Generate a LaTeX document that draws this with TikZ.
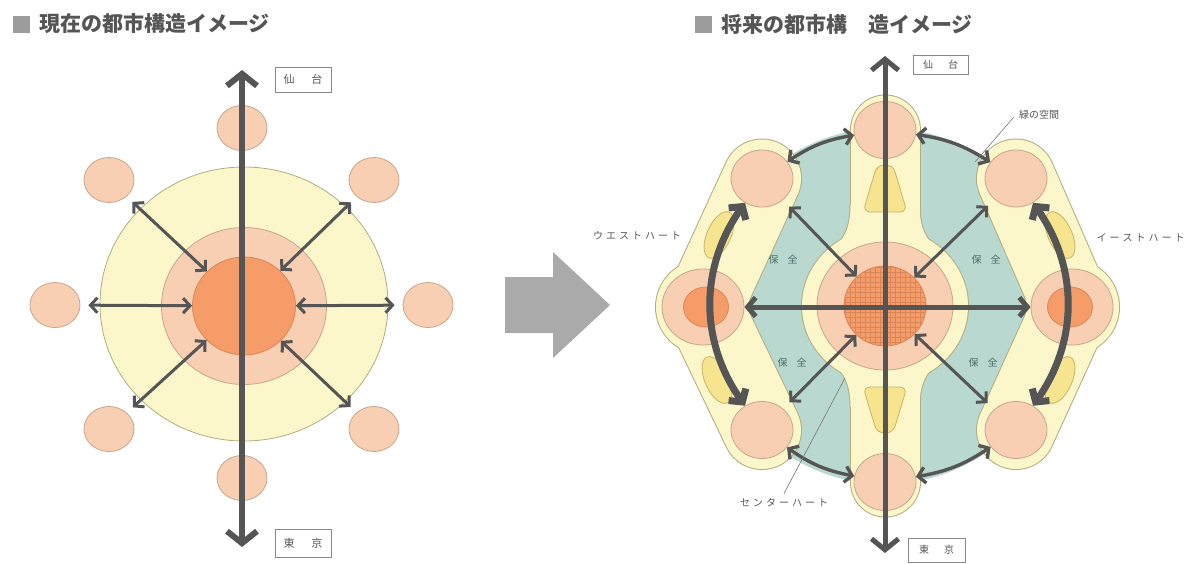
\documentclass[tikz,border=0pt]{standalone}
\usepackage{fontspec}
\newfontfamily\jp{Noto Sans CJK JP}
\usetikzlibrary{arrows.meta,shapes.geometric}
\definecolor{ylw}{HTML}{FBF7CB}
\definecolor{ylwline}{HTML}{B3AE82}
\definecolor{peach}{HTML}{F9CFB3}
\definecolor{peachline}{HTML}{C6A68C}
\definecolor{org}{HTML}{F59C68}
\definecolor{orgline}{HTML}{D8875A}
\definecolor{grn}{HTML}{B9D8CF}
\definecolor{dyl}{HTML}{F6E48E}
\definecolor{dylline}{HTML}{C8B46A}
\definecolor{arr}{HTML}{555555}
\definecolor{lbl}{HTML}{555555}
\definecolor{bigarr}{HTML}{AAAAAA}
\definecolor{sq}{HTML}{9C9C9C}
\definecolor{hz}{HTML}{4E6A66}
\newcommand\lsgap{\kern3pt}
\tikzset{
  el/.style={ellipse, inner sep=0pt, line width=0.8pt},
  lsat/.style={el, draw=peachline, fill=peach, minimum width=50pt, minimum height=45pt},
  rsat/.style={el, draw=peachline, fill=peach, minimum width=62pt, minimum height=57pt},
  leaf/.style={el, draw=dylline, fill=dyl, minimum width=24pt, minimum height=50pt},
  thinarr/.style={draw=arr, line width=3pt, arrows={Straight Barb[length=7pt,width=15pt]-Straight Barb[length=7pt,width=15pt]}},
  arcarr/.style={draw=arr, line width=3.4pt, arrows={Straight Barb[length=7pt,width=16pt]-Straight Barb[length=7pt,width=16pt]}},
  midarr/.style={draw=arr, line width=5pt, arrows={Straight Barb[length=8pt,width=19pt]-Straight Barb[length=8pt,width=19pt]}},
  thickarr/.style={draw=arr, line width=7pt, arrows={Straight Barb[length=9pt,width=21pt]-Straight Barb[length=9pt,width=21pt]}},
  mainarr/.style={draw=arr, line width=6pt, arrows={Straight Barb[length=12pt,width=30pt]-Straight Barb[length=12pt,width=30pt]}},
  mainarrb/.style={draw=arr, line width=5pt, arrows={Straight Barb[length=11pt,width=27pt]-Straight Barb[length=11pt,width=27pt]}},
  citybox/.style={draw=lbl!70, line width=0.6pt, text=lbl, inner sep=0pt, minimum width=56pt, minimum height=25pt, font=\jp\fontsize{11}{11}\selectfont},
  small/.style={inner sep=0pt, text=lbl, font=\jp\fontsize{10}{10}\selectfont},
  hzen/.style={inner sep=0pt, text=hz, font=\jp\fontsize{10}{10}\selectfont},
  title/.style={anchor=west, inner sep=0pt, text=lbl, font=\jp\bfseries\fontsize{21}{21}\selectfont},
  leader/.style={draw=lbl!80, line width=0.6pt}
}
\begin{document}
\begin{tikzpicture}[x=1pt,y=-1pt]
\useasboundingbox (0,0) rectangle (1198,563);
\fill[white] (0,0) rectangle (1198,563);

% ---------- titles ----------
\node[fill=sq, minimum size=17pt, inner sep=0pt] (Q1) at (21.5,24) {};
\node[title] (T1) at (39,24) {現在の都市構造イメージ};
\node[fill=sq, minimum size=17pt, inner sep=0pt] (Q2) at (703,24) {};
\node[title] (T2) at (721,24) {将来の都市構　造イメージ};

% ---------- left diagram ----------
\node[el, draw=ylwline, fill=ylw, minimum width=288pt, minimum height=274pt] (LY) at (244,304) {};
\node[el, draw=peachline, fill=peach, minimum width=165pt, minimum height=157pt] (LP) at (244,306) {};
\node[el, draw=orgline, fill=org, minimum width=103pt, minimum height=98pt] (LO) at (244,306) {};
\node[lsat] (LT) at (242,128) {};
\node[lsat] (LTL) at (109,180) {};
\node[lsat] (LTR) at (374,180) {};
\node[lsat] (LL) at (55,305) {};
\node[lsat] (LR) at (428,305) {};
\node[lsat] (LBL) at (109,429) {};
\node[lsat] (LBR) at (374,429) {};
\node[lsat] (LB) at (242,478) {};
\draw[thinarr, shorten <=8pt] (LTL) -- (LO);
\draw[thinarr, shorten <=8pt] (LTR) -- (LO);
\draw[thinarr, shorten <=8pt] (LL) -- (LO);
\draw[thinarr, shorten <=8pt] (LR) -- (LO);
\draw[thinarr, shorten <=8pt] (LBL) -- (LO);
\draw[thinarr, shorten <=8pt] (LBR) -- (LO);
\coordinate (LN) at (242,70);
\coordinate (LS) at (242,547);
\draw[mainarr] (LS) -- (LN);
\node[citybox] (LSen) at (303,79.5) {仙\hspace{17pt}台};
\node[citybox, minimum height=28pt] (LTok) at (303,543) {東\hspace{17pt}京};

% ---------- big arrow ----------
\fill[bigarr] (505,277) -- (553,277) -- (553,252) -- (610,305) -- (553,358) -- (553,333) -- (505,333) -- cycle;

% ---------- right diagram ----------
\coordinate (C) at (885,306);
\fill[grn] (C) circle[radius=178];
% outline pass
\draw[ylwline, line width=71pt, line cap=round] (885,130) -- (885,482);
\draw[ylwline, line width=2pt] (C) ellipse[x radius=83, y radius=78];
\foreach \sx/\sy in {1/1,-1/1,1/-1,-1/-1}{
  \draw[ylwline, line width=2pt, shift={(885,306)}, xscale=\sx, yscale=\sy] (-34.5,-101) .. controls (-34.5,-74) and (-43,-61) .. (-67,-46);
}
\draw[ylwline, line width=80pt, line cap=round, line join=round] (762,178.5) -- (703,307) -- (762,430);
\fill[ylwline] (703,307) circle[radius=48];
\draw[ylwline, line width=80pt, line cap=round, line join=round] (1016,178.5) -- (1072,307) -- (1016,430);
\fill[ylwline] (1072,307) circle[radius=48];
% fill pass
\draw[ylw, line width=69pt, line cap=round] (885,130) -- (885,482);
\fill[ylw] (C) ellipse[x radius=83, y radius=78];
\foreach \sx/\sy in {1/1,-1/1,1/-1,-1/-1}{
  \fill[ylw, shift={(885,306)}, xscale=\sx, yscale=\sy] (-34.5,-101) .. controls (-34.5,-74) and (-43,-61) .. (-67,-46) -- (-35,-36) -- (-15,-76) -- cycle;
}
\draw[ylw, line width=78pt, line cap=round, line join=round] (762,178.5) -- (703,307) -- (762,430);
\fill[ylw] (703,307) circle[radius=47];
\draw[ylw, line width=78pt, line cap=round, line join=round] (1016,178.5) -- (1072,307) -- (1016,430);
\fill[ylw] (1072,307) circle[radius=47];

% darker yellow leaves and tears
\node[leaf, rotate=-24] (WL1) at (719,235) {};
\node[leaf, rotate=24] (WL2) at (717,380) {};
\node[leaf, rotate=24] (EL1) at (1060,235) {};
\node[leaf, rotate=-24] (EL2) at (1060,380) {};
\filldraw[draw=dylline, fill=dyl, line width=0.8pt, rounded corners=7pt] (877,165) -- (893,165) -- (907,212) -- (863,212) -- cycle;
\filldraw[draw=dylline, fill=dyl, line width=0.8pt, rounded corners=7pt] (863,387) -- (907,387) -- (893,433) -- (877,433) -- cycle;

% center circles
\node[el, draw=peachline, fill=peach, minimum width=136pt, minimum height=128pt] (RP) at (C) {};
\node[el, draw=orgline, fill=org, minimum width=82pt, minimum height=80pt] (RO) at (C) {};
\begin{scope}
  \clip (C) ellipse[x radius=41, y radius=40];
  \foreach \i in {0,...,18} {
    \draw[orgline, line width=0.35pt] (840+5*\i,262) -- (840+5*\i,352);
    \draw[orgline, line width=0.35pt] (840,262+5*\i) -- (932,262+5*\i);
  }
\end{scope}

% satellites
\node[rsat] (RT) at (885,130) {};
\node[rsat] (RB) at (885,482) {};
\node[rsat] (RUL) at (762,178.5) {};
\node[rsat] (RUR) at (1016,178.5) {};
\node[rsat] (RLL) at (762,430) {};
\node[rsat] (RLR) at (1016,430) {};
\node[el, draw=peachline, fill=peach, minimum width=82pt, minimum height=76pt] (RL) at (703,307) {};
\node[el, draw=orgline, fill=org, minimum width=45pt, minimum height=40pt] (RLi) at (706,307) {};
\node[el, draw=peachline, fill=peach, minimum width=82pt, minimum height=76pt] (RR) at (1072,307) {};
\node[el, draw=orgline, fill=org, minimum width=45pt, minimum height=40pt] (RRi) at (1070,307) {};

% arrows
\draw[thinarr, shorten <=9pt] (RUL) -- (RO);
\draw[thinarr, shorten <=9pt] (RUR) -- (RO);
\draw[thinarr, shorten <=9pt] (RLL) -- (RO);
\draw[thinarr, shorten <=9pt] (RLR) -- (RO);
\draw[midarr] (RL) -- (RR);
\draw[arcarr] (RUL) to[bend left=12] (RT);
\draw[arcarr] (RT) to[bend left=12] (RUR);
\draw[arcarr] (RLL) to[bend right=12] (RB);
\draw[arcarr] (RB) to[bend right=12] (RLR);
\draw[thickarr] (RUL) to[bend right=35] (RLL);
\draw[thickarr] (RUR) to[bend left=35] (RLR);
\coordinate (RN) at (885,56);
\coordinate (RS) at (885,553);
\draw[mainarrb] (RS) -- (RN);

% labels
\node[citybox, minimum width=55pt, minimum height=19pt, font=\jp\fontsize{10}{10}\selectfont] (RSen) at (940.5,64.5) {仙\hspace{15pt}台};
\node[citybox, minimum width=57pt, minimum height=24pt, font=\jp\fontsize{10}{10}\selectfont] (RTok) at (936.5,550) {東\hspace{15pt}京};
\node[small] (West) at (637,236) {ウ\lsgap エ\lsgap ス\lsgap ト\lsgap ハ\lsgap ー\lsgap ト};
\node[small] (East) at (1140.5,238) {イ\lsgap ー\lsgap ス\lsgap ト\lsgap ハ\lsgap ー\lsgap ト};
\node[small] (Cen) at (784,503) {セ\lsgap ン\lsgap タ\lsgap ー\lsgap ハ\lsgap ー\lsgap ト};
\node[small] (Grn) at (1039,115) {緑の空間};
\coordinate (g1) at (975,162);
\coordinate (c1) at (845,378);
\draw[leader] ([xshift=-5pt,yshift=-2pt]Grn.west) -- (g1);
\draw[leader] ([yshift=5pt]Cen.north) -- (c1);
\node[hzen] (H1) at (783,260) {保\hspace{9pt}全};
\node[hzen] (H2) at (986,260) {保\hspace{9pt}全};
\node[hzen] (H3) at (792,363) {保\hspace{9pt}全};
\node[hzen] (H4) at (983,363) {保\hspace{9pt}全};
\end{tikzpicture}
\end{document}
